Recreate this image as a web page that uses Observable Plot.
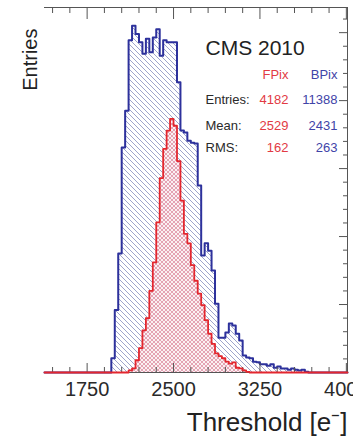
<!DOCTYPE html>
<html><head><meta charset="utf-8">
<script src="https://cdn.jsdelivr.net/npm/d3@7"></script>
<script src="https://cdn.jsdelivr.net/npm/@observablehq/plot@0.6"></script>
<style>body{margin:0;background:#fff;} svg{display:block;}</style>
</head><body><div id="chart"></div>
<script>
// ---- data ----
const binStarts = [1960,1990,2020,2050,2080,2110,2140,2170,2200,2230,2260,2290,2320,2350,2380,2410,2440,2470,2500,2530,2560,2590,2620,2650,2680,2710,2740,2770,2800,2830,2860,2890,2920,2950,2980,3010,3040,3070,3100,3130,3160,3190,3220,3250,3280,3310,3340,3370,3400,3430,3460,3490,3520,3550,3580,3610,3640,3670];
const binEnd = 3700;
const bpixCounts = [21,92,175,331,385,489,510,498,486,469,491,471,493,505,466,489,486,486,486,427,356,353,341,338,337,275,172,190,179,150,101,51,51,59,72,69,57,47,25,22,21,16,15,12,12,10,12,7,9,6,6,4,6,4,3,4,1,0];
const fpixCounts = [0,0,0,0,0,3,6,18,36,62,80,120,162,221,286,329,356,373,363,311,253,204,190,158,135,116,99,77,57,42,28,24,21,16,13,15,7,6,3,1,0,0,0,0,0,0,0,0,0,0,0,0,0,0,0,0,0,0];
const xDomain = [1380, 4010];
const yDomain = [0, 537];
const xMajorTicks = [1750, 2500, 3250, 4000];
const xMinorTicks = [1450,1600,1900,2050,2200,2350,2650,2800,2950,3100,3400,3550,3700,3850];
const yMajorTicks = [100,200,300,400,500];
const yMinorTicks = [20,40,60,80,120,140,160,180,220,240,260,280,320,340,360,380,420,440,460,480,520];
const title = "CMS 2010";
const seriesNames = ["FPix", "BPix"];
const statLabels = ["Entries:", "Mean:", "RMS:"];
const fpixStats = ["4182", "2529", "162"];
const bpixStats = ["11388", "2431", "263"];
const xLabel = "Threshold [e\u207B]";
const yLabel = "Entries";

// ---- layout ----
const W = 353, H = 437, mL = 44, mR = 6, mT = 7, mB = 65;
const pxPerX = (W - mL - mR) / (xDomain[1] - xDomain[0]);
const pxPerY = (H - mT - mB) / (yDomain[1] - yDomain[0]);
const lenY = px => px / pxPerY;   // tick length in y units
const lenX = px => px / pxPerX;   // tick length in x units

// ---- build step series ----
function steps(counts) {
  const pts = [{x: xDomain[0], y: 0}];
  binStarts.forEach((s, i) => pts.push({x: s, y: counts[i]}));
  pts.push({x: binEnd, y: 0});
  pts.push({x: xDomain[1], y: 0});
  return pts;
}
const blue = steps(bpixCounts);
const red = steps(fpixCounts);

const BLUE = "#2d319c", RED = "#e3262e", TXT = "#2a2a2a", AX = "#555";
const BLUE_T = "#3f44a8", RED_T = "#e23a44";

function defs() {
  const d = d3.create("svg:defs");
  const b = d.append("pattern").attr("id", "bhatch").attr("patternUnits", "userSpaceOnUse")
    .attr("width", 5).attr("height", 5);
  b.append("path").attr("d", "M0,0L5,5M-1,4L1,6M4,-1L6,1")
    .attr("stroke", "#8d93c2").attr("stroke-width", 0.85).attr("fill", "none");
  const r = d.append("pattern").attr("id", "rhatch").attr("patternUnits", "userSpaceOnUse")
    .attr("width", 4).attr("height", 4);
  r.append("rect").attr("width", 4).attr("height", 4).attr("fill", "#fbf0f3");
  r.append("path").attr("d", "M0,0L4,4M4,0L0,4")
    .attr("stroke", "#de8fa2").attr("stroke-width", 0.8).attr("fill", "none");
  return d.node();
}

const textOpts = {frameAnchor: "top-left", lineAnchor: "middle", fontSize: 13};
const rowDy = [92.5, 118, 140.5];
const statMarks = [];
statLabels.forEach((lab, i) => {
  statMarks.push(Plot.text([lab], {...textOpts, dx: 161, dy: rowDy[i], textAnchor: "start", fill: TXT}));
  statMarks.push(Plot.text([fpixStats[i]], {...textOpts, dx: 244, dy: rowDy[i], textAnchor: "end", fill: RED_T}));
  statMarks.push(Plot.text([bpixStats[i]], {...textOpts, dx: 293, dy: rowDy[i], textAnchor: "end", fill: BLUE_T}));
});

const chart = Plot.plot({
  width: W,
  height: H,
  marginLeft: mL,
  marginRight: mR,
  marginTop: mT,
  marginBottom: mB,
  style: {fontFamily: "'Liberation Sans', Arial, sans-serif", background: "#fff", color: TXT},
  x: {domain: xDomain},
  y: {domain: yDomain, axis: null},
  marks: [
    defs,
    Plot.areaY(blue, {x: "x", y: "y", curve: "step-after", fill: "url(#bhatch)"}),
    Plot.lineY(blue, {x: "x", y: "y", curve: "step-after", stroke: BLUE, strokeWidth: 2}),
    Plot.areaY(red, {x: "x", y: "y", curve: "step-after", fill: "url(#rhatch)"}),
    // frame lines (top and right)
    Plot.ruleY([yDomain[1]], {stroke: AX, strokeWidth: 1}),
    Plot.ruleX([xDomain[1]], {stroke: AX, strokeWidth: 1}),
    Plot.ruleY([0], {stroke: AX, strokeWidth: 1}),
    // inward ticks: bottom
    Plot.ruleX(xMinorTicks, {x: d => d, y1: 0, y2: lenY(5), stroke: AX}),
    Plot.ruleX(xMajorTicks, {x: d => d, y1: 0, y2: lenY(9), stroke: AX}),
    // top
    Plot.ruleX(xMinorTicks, {x: d => d, y1: yDomain[1] - lenY(6), y2: yDomain[1], stroke: AX}),
    Plot.ruleX(xMajorTicks, {x: d => d, y1: yDomain[1] - lenY(12), y2: yDomain[1], stroke: AX}),
    // right
    Plot.ruleY(yMinorTicks, {y: d => d, x1: xDomain[1] - lenX(4), x2: xDomain[1], stroke: AX}),
    Plot.ruleY(yMajorTicks, {y: d => d, x1: xDomain[1] - lenX(8), x2: xDomain[1], stroke: AX}),
    Plot.axisX(xMajorTicks, {anchor: "bottom", tickSize: 0, tickPadding: 9, fontSize: 20, label: null, tickFormat: d => String(d), fill: TXT}),
    Plot.lineY(red, {x: "x", y: "y", curve: "step-after", stroke: RED, strokeWidth: 1.8}),
    Plot.text([title], {...textOpts, fontSize: 21, dx: 161, dy: 40.5, textAnchor: "start", fill: "#222"}),
    Plot.text([seriesNames[0]], {...textOpts, dx: 244, dy: 67, textAnchor: "end", fill: RED_T}),
    Plot.text([seriesNames[1]], {...textOpts, dx: 293, dy: 67, textAnchor: "end", fill: BLUE_T}),
    ...statMarks,
    Plot.text([xLabel], {frameAnchor: "bottom-right", lineAnchor: "middle", textAnchor: "end", dy: 50, dx: 0, fontSize: 26, fill: "#222"}),
    Plot.text([yLabel], {frameAnchor: "top-left", lineAnchor: "middle", textAnchor: "end", rotate: -90, dx: -14, dy: 21, fontSize: 20, fill: "#222"})
  ]
});
document.getElementById("chart").appendChild(chart);
</script>
</body></html>
